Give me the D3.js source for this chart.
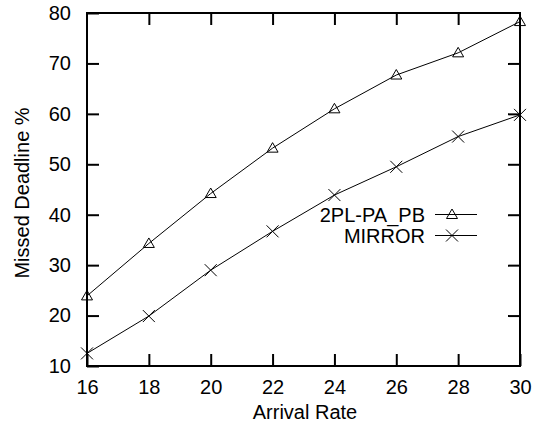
<!DOCTYPE html>
<html><head><meta charset="utf-8">
<script src="https://cdn.jsdelivr.net/npm/d3@7"></script>
<style>body{margin:0;background:#fff} text{font-family:"Liberation Sans",Arial,sans-serif;fill:#000}</style>
</head><body><svg id="c" width="536" height="423"></svg>
<script>
const arrivalRate=[16,18,20,22,24,26,28,30];
const seriesNames=["2PL-PA_PB","MIRROR"];
const pl2Values=[23.9,34.3,44.2,53.2,61.0,67.7,72.1,78.3];
const mirrorValues=[12.5,19.9,29.0,36.7,43.9,49.5,55.5,59.8];
const xTickValues=[16,18,20,22,24,26,28,30];
const yTickValues=[10,20,30,40,50,60,70,80];

const L=87,R=520,T=13,B=366,FS=20;
const svg=d3.select("#c");
svg.append("rect").attr("width",536).attr("height",423).attr("fill","#fff");
const x=d3.scaleLinear().domain([16,30]).range([L,R]);
const y=d3.scaleLinear().domain([10,80]).range([B,T]);

function styleAxis(g){
  g.select(".domain").remove();
  g.selectAll(".tick line").attr("stroke","#000").attr("stroke-width",2);
  g.selectAll(".tick text").attr("font-size",FS).attr("font-family","Liberation Sans, Arial, sans-serif").attr("fill","#000");
}
// bottom
svg.append("g").attr("transform",`translate(0,${B})`)
  .call(d3.axisBottom(x).tickValues(xTickValues).tickSize(-12).tickPadding(14).tickFormat(d3.format("d")))
  .call(styleAxis);
// top
svg.append("g").attr("transform",`translate(0,${T})`)
  .call(d3.axisTop(x).tickValues(xTickValues.slice(1,-1)).tickSize(-12).tickFormat(""))
  .call(styleAxis);
// left
svg.append("g").attr("transform",`translate(${L},0)`)
  .call(d3.axisLeft(y).tickValues(yTickValues).tickSize(-12).tickPadding(16).tickFormat(d3.format("d")))
  .call(styleAxis);
// right
svg.append("g").attr("transform",`translate(${R},0)`)
  .call(d3.axisRight(y).tickValues(yTickValues.slice(1,-1)).tickSize(-12).tickFormat(""))
  .call(styleAxis);
// frame
svg.append("rect").attr("x",L).attr("y",T).attr("width",R-L).attr("height",B-T)
  .attr("fill","none").attr("stroke","#000").attr("stroke-width",2);

// axis titles
svg.append("text").attr("x",305).attr("y",419).attr("text-anchor","middle").attr("font-size",FS).text("Arrival Rate");
svg.append("text").attr("transform",`translate(29,193) rotate(-90)`).attr("text-anchor","middle").attr("font-size",FS).text("Missed Deadline %");

const line=d3.line().x((d,i)=>x(arrivalRate[i])).y(d=>y(d));
const triPath="M0,-5.5L5.5,4L-5.5,4Z";
const crossPath="M-6,-6L6,6M-6,6L6,-6";

function drawSeries(vals,shape){
  svg.append("path").datum(vals).attr("d",line).attr("fill","none").attr("stroke","#000").attr("stroke-width",1);
  svg.append("g").selectAll("path").data(vals).join("path")
    .attr("transform",(d,i)=>`translate(${x(arrivalRate[i])},${y(d)})`)
    .attr("d",shape).attr("fill","none").attr("stroke","#000").attr("stroke-width",1);
}
drawSeries(pl2Values,triPath);
drawSeries(mirrorValues,crossPath);

// legend
const legY=[214.5,235.5];
[triPath,crossPath].forEach((s,i)=>{
  svg.append("text").attr("x",425).attr("y",legY[i]).attr("dy","0.35em").attr("text-anchor","end").attr("font-size",FS).text(seriesNames[i]);
  svg.append("line").attr("x1",435).attr("x2",477).attr("y1",legY[i]).attr("y2",legY[i]).attr("stroke","#000").attr("stroke-width",1);
  svg.append("path").attr("transform",`translate(452,${legY[i]})`).attr("d",s).attr("fill","none").attr("stroke","#000").attr("stroke-width",1);
});
</script></body></html>
